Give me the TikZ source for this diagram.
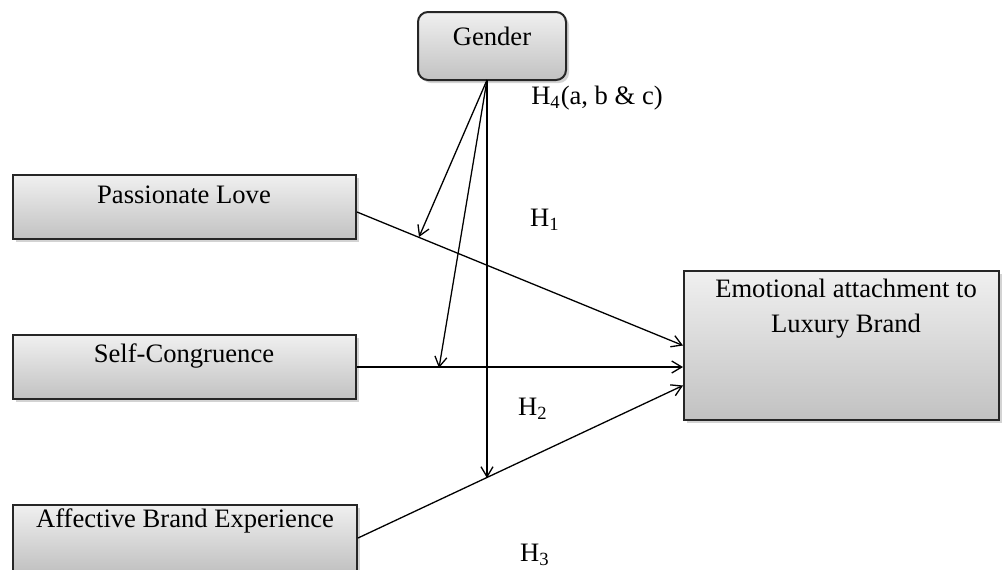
\documentclass[tikz,border=0pt]{standalone}
\usepackage{fontspec}
\setmainfont{Liberation Serif}
\usetikzlibrary{arrows.meta,shadows,calc}
\begin{document}
\begin{tikzpicture}[x=0.5pt,y=-0.5pt,
  every node/.style={font=\fontsize{13.3}{17.5}\selectfont},
  box/.style={draw=black!85, line width=1pt, top color=gray!12, bottom color=gray!48,
    drop shadow={shadow xshift=1.5pt, shadow yshift=-1.5pt, opacity=0.35, fill=gray}},
  lbl/.style={inner sep=0pt, align=center},
  conn/.style={line width=0.65pt, -{Straight Barb[length=5pt,width=6pt]}}]
\useasboundingbox (0,0) rectangle (1002,569);
% boxes
\node[box, rounded corners=5pt, minimum width=74pt, minimum height=34pt] (G) at (492,46) {};
\node[box, minimum width=171.5pt, minimum height=32pt] (PL) at (184.5,207) {};
\node[box, minimum width=171.5pt, minimum height=32pt] (SC) at (184.5,367) {};
\node[box, minimum width=172pt, minimum height=33pt] (ABE) at (185,538) {};
\node[box, minimum width=157.5pt, minimum height=74.5pt] (EA) at (841.5,345.5) {};
% texts
\node[lbl] (tG) at (492,36) {Gender};
\node[lbl] (tPL) at (184,195) {Passionate Love};
\node[lbl] (tSC) at (184,356) {Self-Congruence};
\node[lbl] (tABE) at (185,521) {Affective Brand Experience};
\node[lbl] (tEA) at (846,309) {Emotional attachment to\\Luxury Brand};
\node[lbl] (H4) at (597,98) {H\textsubscript{4}(a, b \& c)};
\node[lbl] (H1) at (545,220) {H\textsubscript{1}};
\node[lbl] (H2) at (533,409) {H\textsubscript{2}};
\node[lbl] (H3) at (535,555) {H\textsubscript{3}};
% points
\coordinate (g) at (487,80);
\coordinate (m1) at (419,237);
\coordinate (m2) at (439,368);
\coordinate (m3) at (487,478);
% main paths
\draw[conn] (PL.east) ++(0,5) -- (EA.west);
\draw[conn] (SC.east) -- (EA.west |- SC.east);
\draw[conn] (ABE.east) -- ($(EA.west)+(0,40)$);
% moderation
\draw[conn] (g) -- (m1);
\draw[conn] (g) -- (m2);
\draw[conn] (g) -- (m3);
\end{tikzpicture}
\end{document}
